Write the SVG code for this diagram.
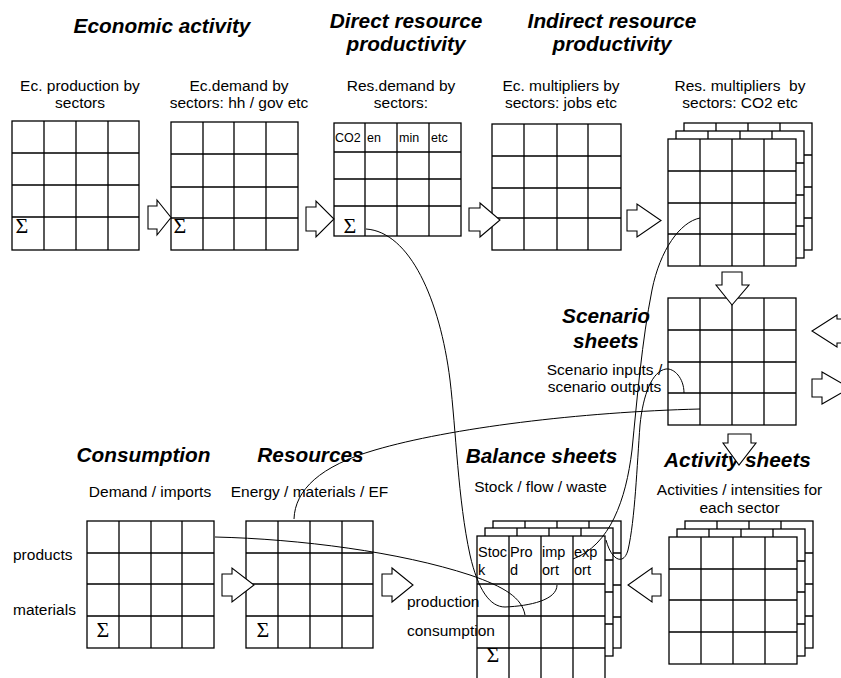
<svg xmlns="http://www.w3.org/2000/svg" width="841" height="678" viewBox="0 0 841 678">
<style>
.gr{fill:#fff;stroke:#000;stroke-width:1.3}
.ln{stroke:#000;stroke-width:1.3;fill:none}
.ar{fill:#fff;stroke:#000;stroke-width:1.1;stroke-linejoin:miter}
.cn{fill:none;stroke:#000;stroke-width:1}
.h{font-family:"Liberation Sans",Arial,sans-serif;font-size:20.8px;font-weight:bold;font-style:italic;text-anchor:middle;fill:#000}
.t{font-family:"Liberation Sans",Arial,sans-serif;font-size:15.5px;text-anchor:middle;fill:#000;white-space:pre}
.l{font-family:"Liberation Sans",Arial,sans-serif;font-size:15.5px;fill:#000}
.s{font-family:"Liberation Sans",Arial,sans-serif;font-size:12.5px;fill:#000}
.c{font-family:"Liberation Sans",Arial,sans-serif;font-size:14.5px;fill:#000}
.sg{font-family:"Liberation Serif","Times New Roman",serif;font-size:22px;text-anchor:middle;fill:#000}
</style>
<rect width="841" height="678" fill="#fff"/>

<!-- headings -->
<text class="h" x="162" y="33">Economic activity</text>
<text class="h" x="406" y="28">Direct resource</text>
<text class="h" x="406" y="51">productivity</text>
<text class="h" x="612" y="28">Indirect resource</text>
<text class="h" x="612" y="51">productivity</text>
<text class="h" x="606" y="323">Scenario</text>
<text class="h" x="606" y="348">sheets</text>
<text class="h" x="143.5" y="462">Consumption</text>
<text class="h" x="310.5" y="462">Resources</text>
<text class="h" x="541.5" y="463">Balance sheets</text>
<text class="h" x="737.5" y="467">Activity sheets</text>

<!-- Ec. production -->
<g id="ec-production">
<text class="t" x="80" y="91">Ec. production by</text>
<text class="t" x="80" y="108">sectors</text>
<rect class="gr" x="12" y="121" width="127" height="129"/>
<path class="ln" d="M44,121V250M76,121V250M108,121V250M12,153H139M12,185H139M12,217H139"/>
<text class="sg" x="22" y="233">Σ</text>
</g>

<g id="ec-demand">
<text class="t" x="239" y="91">Ec.demand by</text>
<text class="t" x="239" y="108">sectors: hh / gov etc</text>
<rect class="gr" x="171" y="122" width="127" height="128"/>
<path class="ln" d="M203,122V250M234,122V250M266,122V250M171,154H298M171,187H298M171,218H298"/>
<text class="sg" x="180" y="233">Σ</text>
</g>

<g id="res-demand">
<text class="t" x="401" y="91">Res.demand by</text>
<text class="t" x="401" y="108">sectors:</text>
<rect class="gr" x="334" y="123" width="127" height="113"/>
<path class="ln" d="M365,123V236M397,123V236M429,123V236M334,152H461M334,179H461M334,206H461"/>
<text class="s" x="335" y="142">CO2</text>
<text class="s" x="367" y="142">en</text>
<text class="s" x="399" y="142">min</text>
<text class="s" x="431" y="142">etc</text>
<text class="sg" x="350" y="233">Σ</text>
</g>

<g id="ec-multipliers">
<text class="t" x="561" y="91">Ec. multipliers by</text>
<text class="t" x="561" y="108">sectors: jobs etc</text>
<rect class="gr" x="492" y="124" width="129" height="126"/>
<path class="ln" d="M524,124V250M557,124V250M588,124V250M492,156H621M492,188H621M492,218H621"/>
</g>

<g id="res-multipliers">
<text class="t" x="740" y="91">Res. multipliers  by</text>
<text class="t" x="740" y="108">sectors: CO2 etc</text>
<rect class="gr" x="684" y="123" width="128" height="127"/>
<path class="ln" d="M716,123V250M748,123V250M780,123V250M684,155H812M684,187H812M684,218H812"/>
<rect class="gr" x="676" y="131" width="128" height="127"/>
<path class="ln" d="M708,131V258M740,131V258M772,131V258M676,163H804M676,195H804M676,226H804"/>
<rect class="gr" x="668" y="139" width="128" height="127"/>
<path class="ln" d="M700,139V266M732,139V266M764,139V266M668,171H796M668,203H796M668,234H796"/>
</g>

<g id="scenario-sheets">
<text class="t" x="604.5" y="375">Scenario inputs /</text>
<text class="t" x="604.5" y="392">scenario outputs</text>
<rect class="gr" x="668" y="298" width="128" height="127"/>
<path class="ln" d="M700,298V425M732,298V425M764,298V425M668,330H796M668,362H796M668,393H796"/>
</g>

<g id="consumption">
<text class="t" x="150" y="497">Demand / imports</text>
<text class="l" x="13" y="560">products</text>
<text class="l" x="13" y="615">materials</text>
<rect class="gr" x="87" y="521" width="127" height="127"/>
<path class="ln" d="M119,521V648M151,521V648M182,521V648M87,553H214M87,584H214M87,616H214"/>
<text class="sg" x="103" y="637">Σ</text>
</g>

<g id="resources">
<text class="t" x="309.5" y="497">Energy / materials / EF</text>
<rect class="gr" x="246" y="521" width="127" height="127"/>
<path class="ln" d="M278,521V648M310,521V648M342,521V648M246,553H373M246,584H373M246,616H373"/>
<text class="sg" x="263" y="637">Σ</text>
</g>

<g id="balance-sheets">
<text class="t" x="540.5" y="492">Stock / flow / waste</text>
<rect class="gr" x="493" y="521" width="128" height="127"/>
<path class="ln" d="M525,521V648M557,521V648M589,521V648M493,553H621M493,585H621M493,617H621"/>
<rect class="gr" x="485" y="528" width="128" height="128"/>
<path class="ln" d="M517,528V656M549,528V656M581,528V656M485,560H613M485,592H613M485,624H613"/>
<rect class="gr" x="477" y="536" width="128" height="160"/>
<path class="ln" d="M509,536V696M541,536V696M573,536V696M477,584H605M477,616H605M477,648H605M477,680H605"/>
<text class="c" x="478" y="557">Stoc</text>
<text class="c" x="478" y="575">k</text>
<text class="c" x="510" y="557">Pro</text>
<text class="c" x="510" y="575">d</text>
<text class="c" x="542" y="557">imp</text>
<text class="c" x="542" y="575">ort</text>
<text class="c" x="574" y="557">exp</text>
<text class="c" x="574" y="575">ort</text>
<text class="l" x="407" y="607">production</text>
<text class="l" x="407" y="636">consumption</text>
<text class="sg" x="493" y="662">Σ</text>
</g>

<g id="activity-sheets">
<text class="t" x="739.5" y="495">Activities / intensities for</text>
<text class="t" x="739.5" y="513">each sector</text>
<rect class="gr" x="685" y="521" width="128" height="127"/>
<path class="ln" d="M717,521V648M749,521V648M781,521V648M685,553H813M685,584H813M685,616H813"/>
<rect class="gr" x="677" y="529" width="128" height="127"/>
<path class="ln" d="M709,529V656M741,529V656M773,529V656M677,561H805M677,592H805M677,624H805"/>
<rect class="gr" x="669" y="537" width="128" height="127"/>
<path class="ln" d="M701,537V664M733,537V664M765,537V664M669,569H797M669,600H797M669,632H797"/>
</g>

<!-- block arrows and curved connectors -->
<g id="connectors">
<polygon class="ar" points="148,206 157,206 157,200 171,217.5 157,235 157,229 148,229"/>
<polygon class="ar" points="306,207 316,207 316,201 334,219 316,237 316,231 306,231"/>
<polygon class="ar" points="469,208 480,208 480,203 500,220 480,237 480,231 469,231"/>
<polygon class="ar" points="627,210 637,210 637,204 661,220.5 637,237 637,231 627,231"/>
<polygon class="ar" points="722,272 742,272 742,285 749,285 732,305 716,285 722,285"/>
<polygon class="ar" points="728,434 751,434 751,443 756,443 739,465 723,443 728,443"/>
<polygon class="ar" points="860,319 837,319 837,315 812,331 837,347 837,343 860,343"/>
<polygon class="ar" points="812,379 822,379 822,372 850,388 822,404 822,397 812,397"/>
<polygon class="ar" points="222,574 232,574 232,568 254,585 232,602 232,596 222,596"/>
<polygon class="ar" points="382,574 392,574 392,568 413,585 392,602 392,596 382,596"/>
<polygon class="ar" points="661,574 652,574 652,568 628,585 652,602 652,596 661,596"/>

<path class="cn" d="M366,229 C410,232 440,300 450,380 C456,430 458,500 470,555 C478,590 490,607 505,607 C530,606 557,600 557,585"/>
<path class="cn" d="M215,537 C300,539 400,552 470,575 C505,587 522,598 525,615"/>
<path class="cn" d="M294,519 C295,490 320,466 375,450 C450,428 580,412 700,409"/>
<path class="cn" d="M700,218 C680,222 660,250 652,290 C642,340 637,400 632,450 C626,500 610,545 573,559"/>
<path class="cn" d="M684,393 C684,378 674,368 666,369 C652,371 643,395 640,425 C637,465 635,520 628,550 C624,565 612,562 606,540"/>
</g>
</svg>
